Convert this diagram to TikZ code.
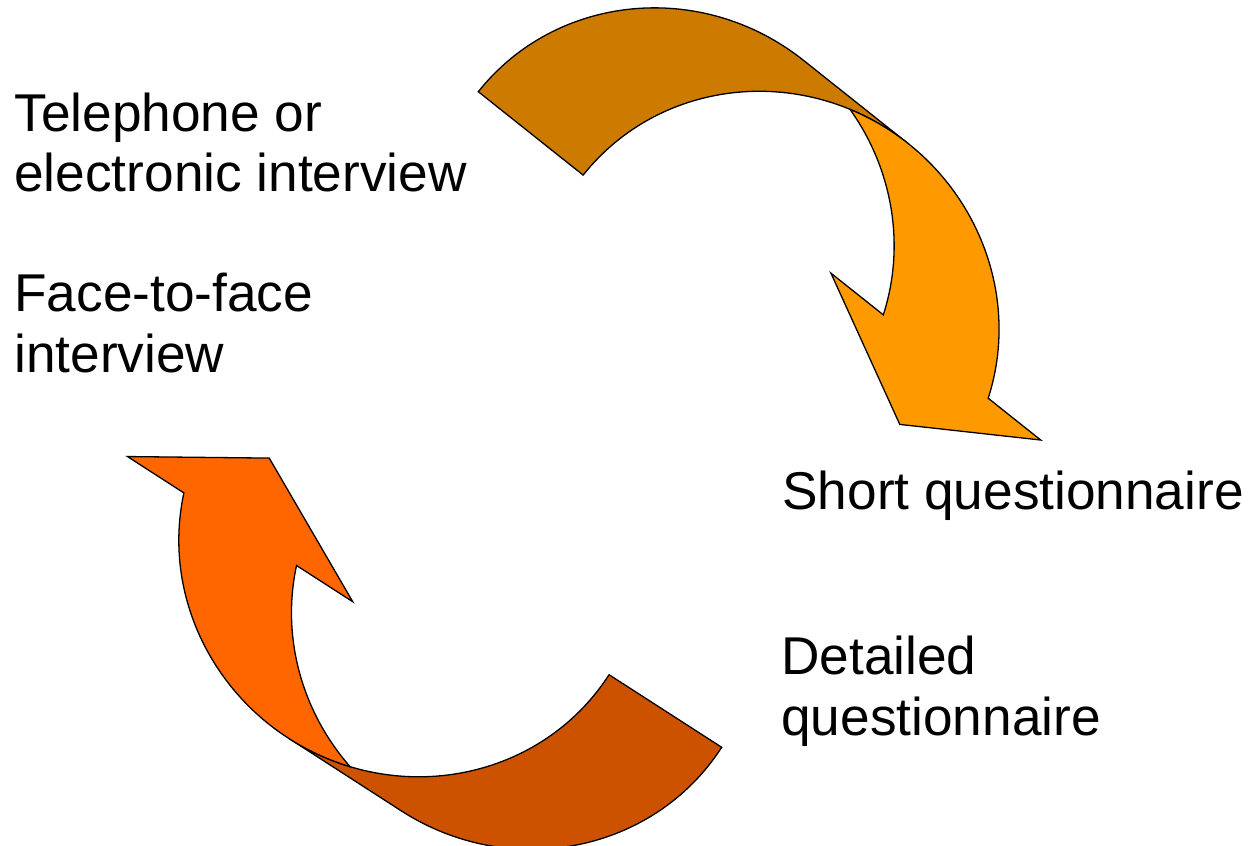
\documentclass[tikz,border=0pt]{standalone}
\usepackage{fontspec}
\setmainfont{Liberation Sans}
\definecolor{amberback}{HTML}{CC7A00}
\definecolor{amberfront}{HTML}{FF9900}
\definecolor{rustback}{HTML}{CC5200}
\definecolor{rustfront}{HTML}{FF6600}

\begin{document}
\begin{tikzpicture}[x=0.5pt,y=0.5pt,
  band/.style={draw=black, line width=0.65pt, line join=miter},
  lbl/.style={anchor=base west, inner sep=0pt,
    font=\fontsize{26.6pt}{30.5pt}\selectfont},
  ell/.style={x radius=235, y radius=227},
  pics/curvedarrow/.style 2 args={code={
    % back face of the ribbon: the tail rising over the top
    \path[band, fill=#1] (0,0)
      arc[start angle=180, end angle=90, ell] -- (369,227)
      arc[start angle=90, end angle=180, ell] -- cycle;
    % front face of the ribbon with its arrowhead
    \path[band, fill=#2] (302,217.6)
      arc[start angle=106.57, end angle=19.96, ell]
      -- (657,77.5) -- (537,2) -- (389,77.5) -- (455.9,77.5)
      arc[start angle=19.96, end angle=73.43, ell] -- cycle;
  }},
]
\useasboundingbox (0,0) rectangle (1250,-846);

% upper arrow: from the interview side to the questionnaire side
\begin{scope}[shift={(478.3,-91.7)}, rotate=-38.5]
  \pic[transform shape] (upper) {curvedarrow={amberback}{amberfront}};
\end{scope}

% lower arrow: back from the questionnaire side to the interview side
\begin{scope}[shift={(721.7,-747.3)}, rotate=147.2]
  \pic[transform shape] (lower) {curvedarrow={rustback}{rustfront}};
\end{scope}

\node[lbl] (tel) at (14,-131)
  {\begin{tabular}[t]{@{}l@{}}Telephone or\\electronic interview\end{tabular}};
\node[lbl] (face) at (14,-311)
  {\begin{tabular}[t]{@{}l@{}}Face-to-face\\interview\end{tabular}};
\node[lbl] (short) at (782,-509) {Short questionnaire};
\node[lbl] (detail) at (781,-674)
  {\begin{tabular}[t]{@{}l@{}}Detailed\\questionnaire\end{tabular}};
\end{tikzpicture}
\end{document}
